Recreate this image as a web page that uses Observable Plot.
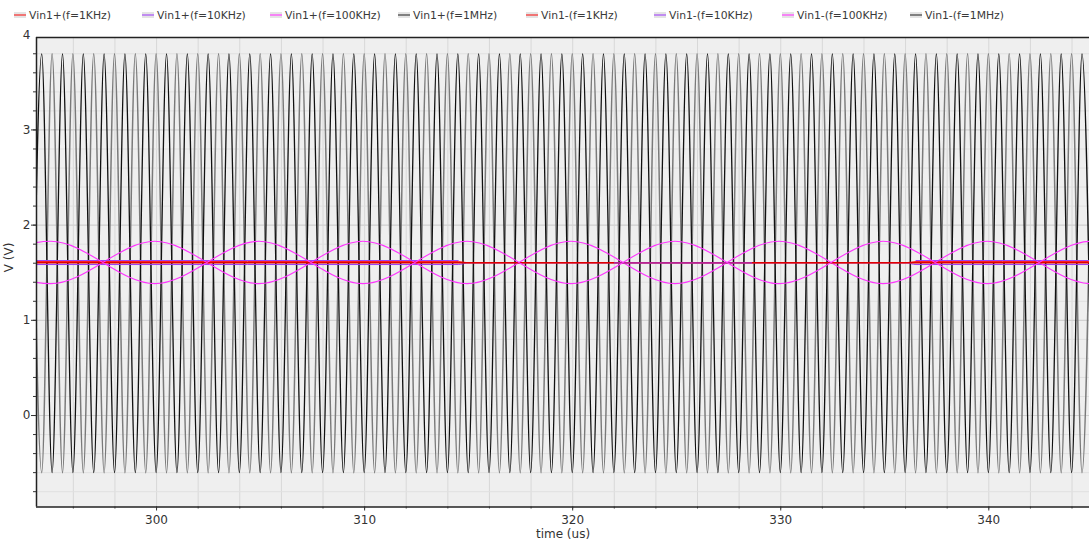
<!DOCTYPE html>
<html><head><meta charset="utf-8">
<script src="https://cdn.jsdelivr.net/npm/d3@7"></script>
<script src="https://cdn.jsdelivr.net/npm/@observablehq/plot@0.6"></script>
<style>
body{margin:0;background:#fff;font-family:"DejaVu Sans",sans-serif;}
#legend{position:relative;height:22px;width:1089px;}
.item{position:absolute;top:9px;height:12px;display:flex;align-items:center;font-size:10.8px;color:#3a3a3a;white-space:nowrap;}
.sw{width:12px;height:6px;background:#e4e4e4;position:relative;margin-right:3px;}
.sw i{position:absolute;left:0;right:0;top:2px;height:2px;}
</style></head>
<body><div id="legend"></div><div id="chart"></div>
<script>
// ---- series names / colours ----
const seriesNames = ["Vin1+(f=1KHz)","Vin1+(f=10KHz)","Vin1+(f=100KHz)","Vin1+(f=1MHz)","Vin1-(f=1KHz)","Vin1-(f=10KHz)","Vin1-(f=100KHz)","Vin1-(f=1MHz)"];
const legendColors = ["#f07575","#c08cf0","#f584f5","#808080","#f07575","#c08cf0","#f584f5","#808080"];
const lineColors = ["#ff1a1a","#9a3cf5","#ff33ff","#7a7a7a","#e00000","#9a3cf5","#ff33ff","#111111"];

// ---- axis ticks ----
const xMajor = [300,310,320,330,340];
const xMinor = [296,298,300,302,304,306,308,310,312,314,316,318,320,322,324,326,328,330,332,334,336,338,340,342,344];
const yMajor = [0,1,2,3];
const yTopLabel = [4];
const yMinor = [-0.8,-0.6,-0.4,-0.2,0,0.2,0.4,0.6,0.8,1,1.2,1.4,1.6,1.8,2,2.2,2.4,2.6,2.8,3,3.2,3.4,3.6,3.8];

// ---- 1MHz waves: extremum times (us) ----
const mhzTimesA = [294.48,295.48,296.48,297.48,298.48,299.48,300.48,301.48,302.48,303.48,304.48,305.48,306.48,307.48,308.48,309.48,310.48,311.48,312.48,313.48,314.48,315.48,316.48,317.48,318.48,319.48,320.48,321.48,322.48,323.48,324.48,325.48,326.48,327.48,328.48,329.48,330.48,331.48,332.48,333.48,334.48,335.48,336.48,337.48,338.48,339.48,340.48,341.48,342.48,343.48,344.48];
const mhzTimesB = [293.98,294.98,295.98,296.98,297.98,298.98,299.98,300.98,301.98,302.98,303.98,304.98,305.98,306.98,307.98,308.98,309.98,310.98,311.98,312.98,313.98,314.98,315.98,316.98,317.98,318.98,319.98,320.98,321.98,322.98,323.98,324.98,325.98,326.98,327.98,328.98,329.98,330.98,331.98,332.98,333.98,334.98,335.98,336.98,337.98,338.98,339.98,340.98,341.98,342.98,343.98,344.98];
const mhzPeakV = 3.80, mhzTroughV = -0.60;

// ---- 100KHz waves: extremum times (us) ----
const khz100TimesC = [294.92,304.92,314.92,324.92,334.92,344.92];
const khz100TimesD = [289.92,299.92,309.92,319.92,329.92,339.92,349.92];
const khz100PeakV = 1.83, khz100TroughV = 1.385;

// ---- 1KHz / 10KHz (nearly flat) ----
const vinP1k_t = [294.23,314.5,315.0,336.0,336.5,344.84];
const vinP1k_v = [1.618,1.618,1.604,1.604,1.618,1.618];
const vinP10k_t = [294.23,314.5,315.0,336.0,336.5,344.84];
const vinP10k_v = [1.586,1.586,1.604,1.604,1.586,1.586];
const vinM1k_t = [294.23,344.84];
const vinM1k_v = [1.604,1.604];
const vinM10k_t = [294.23,314.5,314.5,322.0,328.6,328.6,336.5,344.84];
const vinM10k_v = [1.628,1.628,null,1.603,1.603,null,1.628,1.628];

// ---- build tables ----
const zip = (ts, vs) => ts.map((t,i)=>({t, v: vs[i]}));
const merge = (peaks, pv, troughs, tv) =>
  d3.sort([...peaks.map(t=>({t, v: pv})), ...troughs.map(t=>({t, v: tv}))], d => d.t);

const vinP1M = merge(mhzTimesB, mhzPeakV, mhzTimesA, mhzTroughV);
const vinM1M = merge(mhzTimesA, mhzPeakV, mhzTimesB, mhzTroughV);
const vinP100k = merge(khz100TimesD, khz100PeakV, khz100TimesC, khz100TroughV);
const vinM100k = merge(khz100TimesC, khz100PeakV, khz100TimesD, khz100TroughV);

// legend
const lg = document.getElementById("legend");
seriesNames.forEach((n,i)=>{
  const d = document.createElement("div");
  d.className = "item";
  d.style.left = (14 + i*128) + "px";
  d.innerHTML = `<span class="sw"><i style="background:${legendColors[i]}"></i></span><span>${n}</span>`;
  lg.appendChild(d);
});

const xDom = [294.23, 344.84], yDom = [-0.961, 3.971];
const ln = (data, color, w, curve = "monotone-x") => Plot.line(data, {x:"t", y:"v", stroke: color, strokeWidth: w, curve, clip: true});

const chart = Plot.plot({
  width: 1089, height: 520,
  marginLeft: 36, marginRight: 0, marginTop: 15, marginBottom: 35.5,
  x: {domain: xDom},
  y: {domain: yDom},
  style: {fontFamily: "DejaVu Sans", fontSize: "12px", color: "#333", background: "transparent"},
  marks: [
    Plot.frame({fill: "#efefef", stroke: null}),
    Plot.gridX(xMinor, {stroke: "#d8d8d8", strokeOpacity: 1}),
    Plot.gridY(yMinor, {stroke: "#e0e0e0", strokeOpacity: 1}),
    Plot.gridY(yMajor, {stroke: "#cfcfcf", strokeOpacity: 1}),
    ln(vinP1M, lineColors[3], 1.5),
    ln(vinM1M, lineColors[7], 1.3),
    ln(zip(vinP1k_t, vinP1k_v), lineColors[0], 1),
    ln(zip(vinP10k_t, vinP10k_v), lineColors[1], 1),
    ln(vinP100k, lineColors[2], 1.1),
    ln(zip(vinM1k_t, vinM1k_v), lineColors[4], 1.5),
    ln(zip(vinM10k_t, vinM10k_v), lineColors[5], 1),
    ln(vinM100k, lineColors[6], 1.1),
    Plot.ruleX([xDom[0]], {stroke: "#222", strokeWidth: 1.5}),
    Plot.ruleY([yDom[0], yDom[1]], {stroke: "#222", strokeWidth: 1.5}),
    Plot.axisX(xMinor, {tickSize: 2, tickFormat: () => "", label: null, stroke: "#333"}),
    Plot.axisX(xMajor, {tickSize: 4, tickPadding: 4, tickFormat: d => String(d), label: null, stroke: "#333", fill: "#333"}),
    Plot.axisY(yMinor, {tickSize: 3, tickFormat: () => "", label: null, stroke: "#333"}),
    Plot.axisY(yMajor, {tickSize: 5, tickPadding: 1, tickFormat: d => String(d), label: null, stroke: "#333", fill: "#333"}),
    Plot.text(yTopLabel, {x: xDom[0], y: d => d, text: d => String(d), dx: -6, textAnchor: "end", fill: "#333"}),
    Plot.text(["time (us)"], {frameAnchor: "bottom", dy: 31, fill: "#333", fontSize: 12}),
    Plot.text(["V (V)"], {frameAnchor: "left", dx: -27, rotate: -90, fill: "#333", fontSize: 12})
  ]
});
document.getElementById("chart").appendChild(chart);
</script>
</body></html>
